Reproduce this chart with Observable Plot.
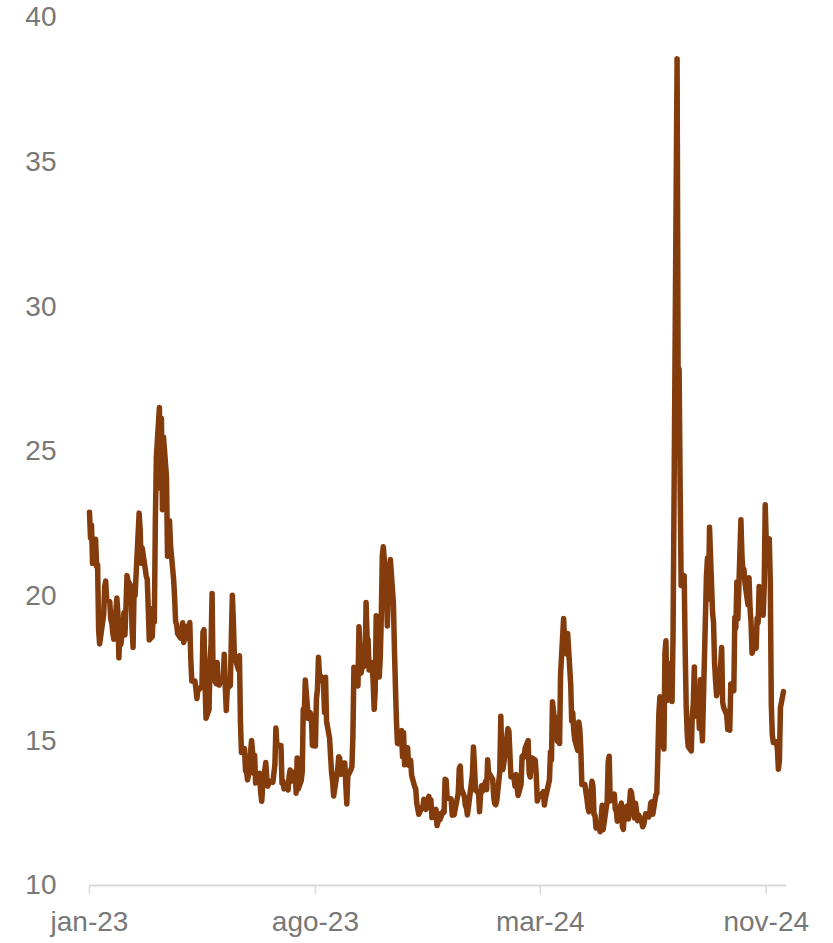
<!DOCTYPE html>
<html>
<head>
<meta charset="utf-8">
<script src="https://cdn.jsdelivr.net/npm/d3@7"></script>
<script src="https://cdn.jsdelivr.net/npm/@observablehq/plot@0.6"></script>
<style>
  html, body { margin: 0; padding: 0; background: #ffffff; }
  #chart { width: 833px; height: 943px; overflow: hidden; }
</style>
</head>
<body>
<div id="chart"></div>
<script>
// Months covered by the series
const months = [
  "2023-01","2023-02","2023-03","2023-04","2023-05","2023-06",
  "2023-07","2023-08","2023-09","2023-10","2023-11","2023-12",
  "2024-01","2024-02","2024-03","2024-04","2024-05","2024-06",
  "2024-07","2024-08","2024-09","2024-10","2024-11"
];

// Trading days (day of month) for each month
const tradingDays = [
  [3,4,5,6,9,10,11,12,13,17,18,19,20,23,24,25,26,27,30,31],
  [1,2,3,6,7,8,9,10,13,14,15,16,17,21,22,23,24,27,28],
  [1,2,3,6,7,8,9,10,13,14,15,16,17,20,21,22,23,24,27,28,29,30,31],
  [3,4,5,6,10,11,12,13,14,17,18,19,20,21,24,25,26,27,28],
  [1,2,3,4,5,8,9,10,11,12,15,16,17,18,19,22,23,24,25,26,30,31],
  [1,2,5,6,7,8,9,12,13,14,15,16,20,21,22,23,26,27,28,29,30],
  [3,5,6,7,10,11,12,13,14,17,18,19,20,21,24,25,26,27,28,31],
  [1,2,3,4,7,8,9,10,11,14,15,16,17,18,21,22,23,24,25,28,29,30,31],
  [1,5,6,7,8,11,12,13,14,15,18,19,20,21,22,25,26,27,28,29],
  [2,3,4,5,6,9,10,11,12,13,16,17,18,19,20,23,24,25,26,27,30,31],
  [1,2,3,6,7,8,9,10,13,14,15,16,17,20,21,22,24,27,28,29,30],
  [1,4,5,6,7,8,11,12,13,14,15,18,19,20,21,22,26,27,28,29],
  [2,3,4,5,8,9,10,11,12,16,17,18,19,22,23,24,25,26,29,30,31],
  [1,2,5,6,7,8,9,12,13,14,15,16,20,21,22,23,26,27,28,29],
  [1,4,5,6,7,8,11,12,13,14,15,18,19,20,21,22,25,26,27,28],
  [1,2,3,4,5,8,9,10,11,12,15,16,17,18,19,22,23,24,25,26,29,30],
  [1,2,3,6,7,8,9,10,13,14,15,16,17,20,21,22,23,24,28,29,30,31],
  [3,4,5,6,7,10,11,12,13,14,17,18,20,21,24,25,26,27,28],
  [1,2,3,5,8,9,10,11,12,15,16,17,18,19,22,23,24,25,26,29,30,31],
  [1,2,5,6,7,8,9,12,13,14,15,16,19,20,21,22,23,26,27,28,29,30],
  [3,4,5,6,9,10,11,12,13,16,17,18,19,20,23,24,25,26,27,30],
  [1,2,3,4,7,8,9,10,11,14,15,16,17,18,21,22,23,24,25,28,29,30,31],
  [1,4,5,6,7,8,11,12,13,14,15,18]
];

// Daily closing values, per month
const vixClose = [
  [22.90,22.01,22.46,21.13,21.97,21.03,21.09,18.83,18.35,19.36,20.34,20.52,19.85,19.81,19.20,19.08,18.73,18.51,19.94,19.40],
  [17.87,18.73,18.33,19.43,18.66,19.63,20.71,20.53,20.34,18.91,18.23,20.17,20.02,22.87,22.29,21.14,21.67,20.95,20.70],
  [20.58,19.59,18.49,18.61,19.59,19.11,22.61,24.80,26.52,23.73,26.14,22.99,25.51,24.12,21.38,22.26,22.61,21.74,20.60,19.97,19.12,19.02,18.70],
  [18.55,18.58,19.08,18.40,18.97,18.53,19.09,17.80,17.07,17.07,16.83,16.46,16.77,16.77,16.89,18.76,18.84,17.03,15.78],
  [16.08,17.78,18.34,20.09,17.19,16.98,17.71,16.94,16.93,17.03,17.12,17.99,16.87,16.05,16.81,16.91,18.53,20.03,19.14,17.95,17.46,17.94],
  [15.65,14.60,14.73,13.96,13.94,13.65,13.83,15.01,14.61,13.88,14.50,13.54,13.88,13.20,12.91,13.44,14.25,13.74,13.43,13.54,13.59],
  [13.57,14.18,15.44,14.83,14.84,14.84,13.54,13.61,13.34,13.48,13.30,13.76,13.99,13.60,13.91,13.86,13.19,14.41,13.33,13.63],
  [13.93,16.09,15.92,17.10,15.77,15.99,15.96,15.85,14.84,14.82,16.46,16.78,17.89,17.30,17.13,16.97,15.98,17.20,15.68,15.08,14.45,13.88,13.57],
  [13.09,14.02,14.45,14.40,13.84,14.23,14.23,13.48,12.82,13.79,14.00,14.11,15.14,17.54,17.20,16.90,18.94,18.22,17.34,17.52],
  [17.61,19.78,18.58,18.49,17.45,17.70,17.03,16.09,16.69,19.32,17.21,17.88,19.22,21.40,21.71,20.37,18.97,20.19,20.68,21.27,19.75,18.14],
  [16.87,15.66,14.91,14.89,15.36,14.45,15.29,14.17,14.76,14.16,14.18,14.32,13.80,13.41,13.35,12.85,12.46,12.69,12.69,12.98,12.92],
  [12.63,13.08,12.85,12.97,12.35,12.35,12.63,12.07,12.19,12.48,12.28,12.56,12.53,13.67,13.65,13.03,12.99,12.43,12.47,12.45],
  [13.20,14.04,14.13,13.35,13.08,12.76,12.69,12.44,12.70,13.84,14.79,14.13,13.30,13.19,12.55,13.14,13.45,13.26,13.60,13.31,14.35],
  [13.88,13.85,13.67,13.06,12.83,12.79,12.93,13.93,15.85,14.38,14.01,14.24,15.42,15.34,14.54,13.75,13.74,13.43,13.84,13.40],
  [13.11,13.49,14.46,14.50,14.44,14.74,15.01,13.88,13.75,14.40,14.41,14.33,13.82,12.92,13.06,13.06,13.19,13.24,12.78,13.01],
  [13.65,14.61,14.33,16.35,16.03,15.19,14.98,15.80,14.91,17.31,19.23,18.40,18.21,18.00,18.71,16.94,15.69,15.97,15.37,15.03,14.67,15.65],
  [15.39,14.68,13.49,13.49,13.23,13.00,12.69,12.55,13.60,13.42,12.45,12.42,11.99,12.15,11.86,12.29,12.77,11.93,12.92,14.28,14.47,12.92],
  [13.11,13.16,12.63,12.58,12.22,12.74,12.85,12.04,11.94,12.66,12.75,12.30,13.28,13.20,12.33,12.84,12.55,12.24,12.44],
  [12.22,12.03,12.09,12.48,12.37,12.51,12.85,12.89,12.46,13.12,13.19,14.48,15.93,16.52,14.91,14.72,18.04,18.46,16.39,16.60,17.69,16.36],
  [18.59,23.39,38.57,27.71,27.85,23.79,20.37,20.71,18.12,16.19,15.23,14.80,14.65,15.88,16.27,17.55,15.86,16.15,15.43,17.11,15.65,15.00],
  [20.72,21.32,19.90,22.38,19.45,19.08,17.69,17.07,16.56,17.14,17.61,18.23,16.33,16.15,15.89,15.39,15.41,15.37,16.96,16.73],
  [19.26,18.90,20.49,19.21,22.64,21.42,20.86,20.93,20.46,19.70,20.64,19.58,19.11,18.03,18.37,18.20,19.24,19.08,20.33,19.80,19.34,20.35,23.16],
  [21.88,21.98,20.49,16.27,15.20,14.94,14.97,14.71,14.02,14.31,16.14,16.70]
];

// Axis ticks
const xTickDates = ["2023-01-03", "2023-08-14", "2024-03-23", "2024-11-01"];
const xTickLabels = ["jan-23", "ago-23", "mar-24", "nov-24"];
const xDomain = ["2023-01-03", "2024-11-21"];
const yTicks = [10, 15, 20, 25, 30, 35, 40];

// Build table
const rows = [];
months.forEach((m, i) => {
  tradingDays[i].forEach((d, j) => {
    rows.push({
      date: new Date(`${m}-${String(d).padStart(2, "0")}T00:00:00Z`),
      value: vixClose[i][j]
    });
  });
});

const tickDates = xTickDates.map(s => new Date(s + "T00:00:00Z"));
const labelMap = new Map(tickDates.map((d, i) => [+d, xTickLabels[i]]));

const textColor = "#787878";
const axisColor = "#d9d9d9";

const chart = Plot.plot({
  width: 833,
  height: 943,
  marginLeft: 89,
  marginRight: 47,
  marginTop: 17,
  marginBottom: 58,
  style: {
    fontFamily: "'Liberation Sans', Arial, sans-serif",
    fontSize: "28px",
    color: textColor,
    background: "#ffffff"
  },
  x: {
    type: "utc",
    domain: xDomain.map(s => new Date(s + "T00:00:00Z")),
    label: null
  },
  y: {
    domain: [10, 40],
    label: null
  },
  marks: [
    Plot.ruleY([10], {stroke: axisColor, strokeWidth: 2}),
    Plot.axisY({
      ticks: yTicks,
      tickSize: 0,
      tickPadding: 33,
      label: null,
      fill: textColor,
      fontSize: 28
    }),
    Plot.axisX({
      ticks: tickDates,
      tickFormat: d => labelMap.get(+d),
      tickSize: 9,
      tickPadding: 17,
      stroke: axisColor,
      strokeWidth: 1.5,
      fill: textColor,
      fontSize: 28,
      label: null
    }),
    Plot.lineY(rows, {
      x: "date",
      y: "value",
      stroke: "#843c0c",
      strokeWidth: 5.5,
      strokeLinejoin: "round",
      strokeLinecap: "round"
    })
  ]
});

document.getElementById("chart").appendChild(chart);
</script>
</body>
</html>
